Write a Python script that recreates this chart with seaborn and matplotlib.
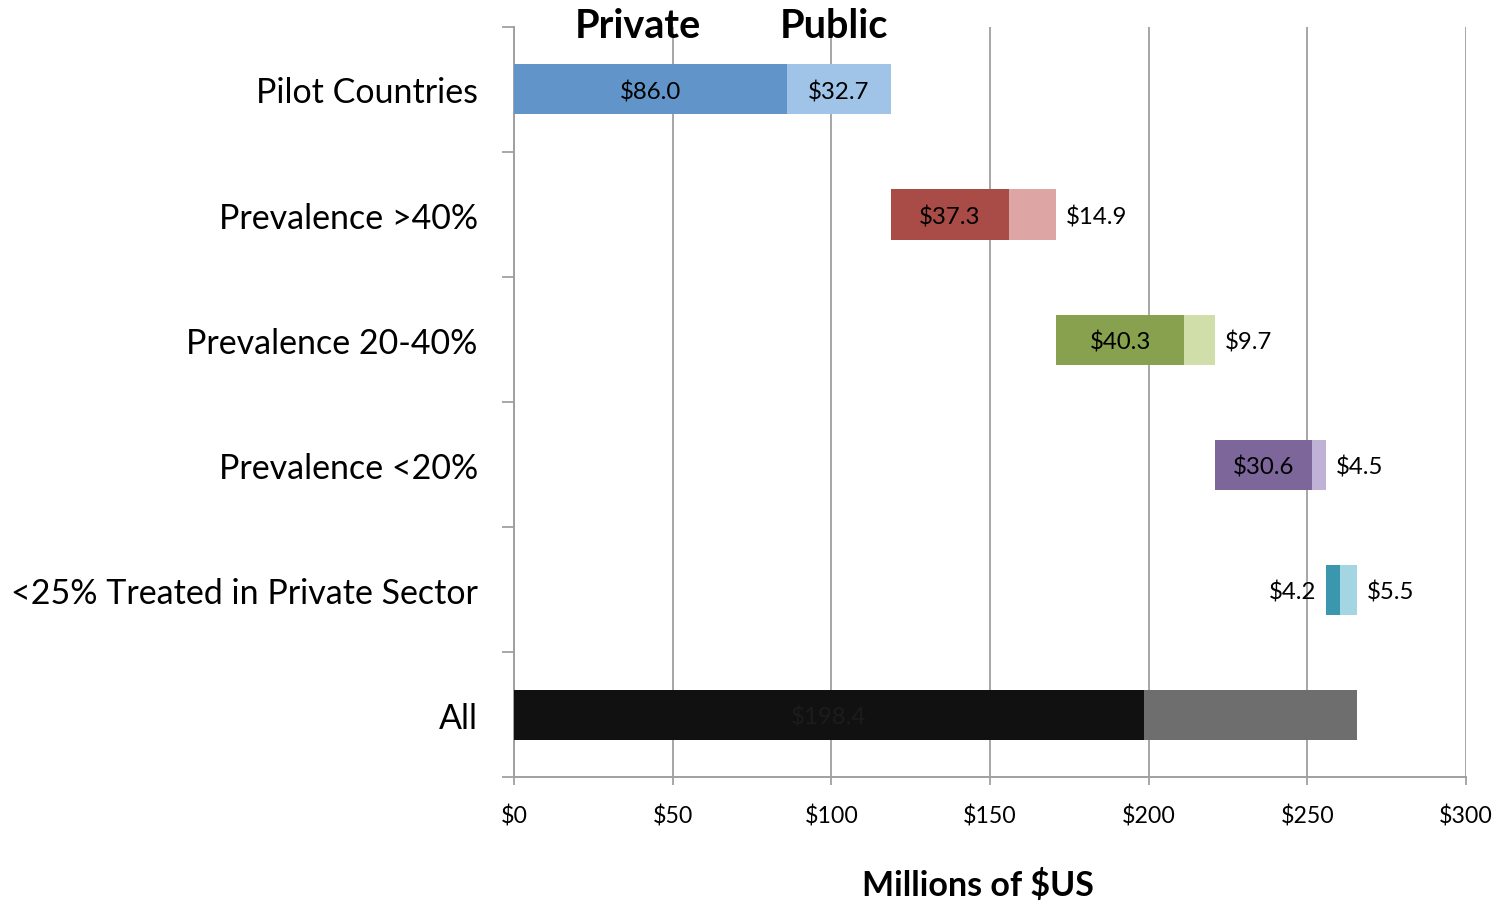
import numpy as np
import pandas as pd
import seaborn as sns
import matplotlib.pyplot as plt
from matplotlib.ticker import FixedLocator, NullFormatter

# Spending by segment (millions of US dollars)
categories = ["Pilot Countries", "Prevalence >40%", "Prevalence 20-40%",
              "Prevalence <20%", "<25% Treated in Private Sector", "All"]
private = [86.0, 37.3, 40.3, 30.6, 4.2, 198.4]
public = [32.7, 14.9, 9.7, 4.5, 5.5, 67.3]
x_ticks = [0, 50, 100, 150, 200, 250, 300]
x_tick_labels = ["$0", "$50", "$100", "$150", "$200", "$250", "$300"]

private_colors = ["#6195C9", "#A94B46", "#88A14E", "#7D6699", "#3A97AE", "#111111"]
public_colors = ["#A0C3E8", "#DDA5A3", "#D0DEAA", "#C0B1D6", "#A4D5E3", "#6E6E6E"]

# Waterfall offsets: each segment starts where the previous one ended; "All" starts at 0
private_left = []
running = 0.0
for name, pv, pb in zip(categories, private, public):
    if name == "All":
        private_left.append(0.0)
    else:
        private_left.append(running)
        running += pv + pb
public_left = [l + p for l, p in zip(private_left, private)]

sns.set_theme(style="white")
plt.rcParams["font.family"] = ["Lato", "DejaVu Sans"]
plt.rcParams["text.color"] = "black"
plt.rcParams["xtick.labelcolor"] = "black"
plt.rcParams["ytick.labelcolor"] = "black"
plt.rcParams["axes.labelcolor"] = "black"

fig = plt.figure(figsize=(14.98, 9.03), dpi=100)
ax = fig.add_axes([0.3431, 0.1384, 0.6355, 0.8306])

df = pd.DataFrame({"category": categories, "private": private, "public": public})

n0 = len(ax.patches)
sns.barplot(data=df, y="category", x="private", hue="category",
            palette=private_colors, width=0.4, legend=False, ax=ax,
            saturation=1, zorder=3)
priv_patches = ax.patches[n0:]
sns.barplot(data=df, y="category", x="public", hue="category",
            palette=public_colors, width=0.4, legend=False, ax=ax,
            saturation=1, zorder=3)
pub_patches = ax.patches[n0 + len(priv_patches):]

for patch, left in zip(priv_patches, private_left):
    patch.set_x(left)
    patch.set_linewidth(0)
for patch, left in zip(pub_patches, public_left):
    patch.set_x(left)
    patch.set_linewidth(0)

label_size = 17.3
va_lbl = "center_baseline"
# Value labels
for i, name in enumerate(categories):
    pv, pb = private[i], public[i]
    pl, ul = private_left[i], public_left[i]
    if name == "<25% Treated in Private Sector":
        ax.text(pl - 3, i, f"${pv:.1f}", ha="right", va=va_lbl,
                fontsize=label_size, color="black", zorder=4)
    elif name == "All":
        ax.text(pl + pv / 2, i, f"${pv:.1f}", ha="center", va=va_lbl,
                fontsize=label_size, color="#1c1c1c", zorder=4)
    else:
        ax.text(pl + pv / 2, i, f"${pv:.1f}", ha="center", va=va_lbl,
                fontsize=label_size, color="black", zorder=4)
    if name == "Pilot Countries":
        ax.text(ul + pb / 2, i, f"${pb:.1f}", ha="center", va=va_lbl,
                fontsize=label_size, color="black", zorder=4)
    elif name != "All":
        ax.text(ul + pb + 3, i, f"${pb:.1f}", ha="left", va=va_lbl,
                fontsize=label_size, color="black", zorder=4)

# Column headers
ax.text(private[0] / 2 - 4, -0.51, "Private", ha="center", va="center",
        fontsize=28.5, fontweight="bold", color="black")
ax.text(public_left[0] + public[0] / 2 - 1.5, -0.51, "Public", ha="center", va="center",
        fontsize=28.5, fontweight="bold", color="black")

# Axes styling
ax.set_xlim(0, 300)
ax.set_ylim(5.5, -0.5)
ax.set_xticks(x_ticks)
ax.set_xticklabels(x_tick_labels, fontsize=16.7)
ax.set_xlabel("Millions of $US", fontsize=24.5, fontweight="bold", va="center")
ax.xaxis.set_label_coords(0.487, -0.143)
ax.set_ylabel("")

ax.yaxis.set_major_locator(FixedLocator(np.arange(-0.5, len(categories), 1.0)))
ax.yaxis.set_major_formatter(NullFormatter())
ax.yaxis.set_minor_locator(FixedLocator(np.arange(len(categories))))
ax.set_yticklabels(categories, minor=True, fontsize=24.5)
for lbl in ax.get_yticklabels(minor=True):
    lbl.set_va("center_baseline")
ax.tick_params(axis="y", which="minor", length=0, pad=26)
ax.tick_params(axis="y", which="major", length=9, width=1.3, color="#A0A0A0",
               direction="out", left=True)
ax.tick_params(axis="x", which="major", length=6, width=1.3, color="#A0A0A0",
               direction="out", bottom=True, pad=14)

ax.grid(axis="x", color="#A6A6A6", linewidth=1.4, zorder=0)
ax.grid(axis="y", visible=False)
ax.set_axisbelow(True)
for side in ["top", "right"]:
    ax.spines[side].set_visible(False)
for side in ["left", "bottom"]:
    ax.spines[side].set_color("#A0A0A0")
    ax.spines[side].set_linewidth(1.4)

fig.savefig("out.png", dpi=100, facecolor="white")
